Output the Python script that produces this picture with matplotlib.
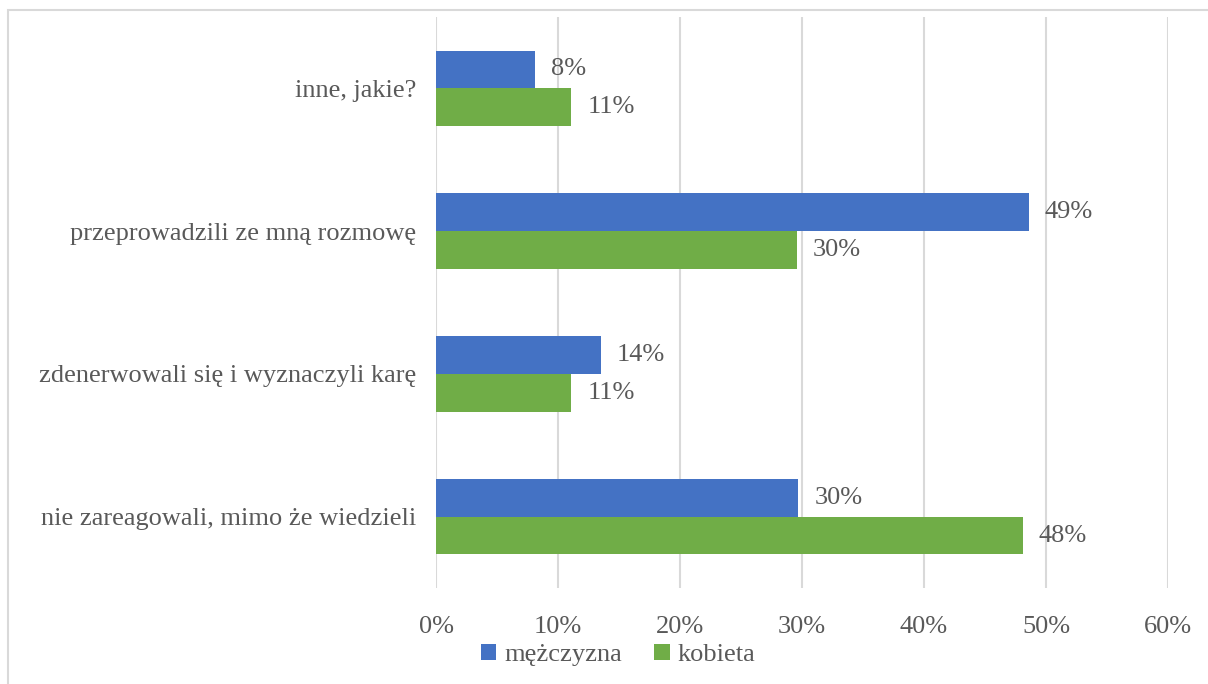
import numpy as np
import matplotlib.pyplot as plt
from matplotlib.patches import Rectangle

categories = ['nie zareagowali, mimo że wiedzieli',
              'zdenerwowali się i wyznaczyli karę',
              'przeprowadzili ze mną rozmowę',
              'inne, jakie?']
men = [29.7, 13.5, 48.6, 8.1]
women = [48.1, 11.1, 29.6, 11.1]
men_labels = ['30%', '14%', '49%', '8%']
women_labels = ['48%', '11%', '30%', '11%']

blue = '#4472C4'
green = '#70AD47'
grey = '#595959'

plt.rcParams['font.family'] = ['Liberation Serif', 'DejaVu Serif']
fs = 19

fig = plt.figure(figsize=(12.08, 6.84), dpi=100)
ax = fig.add_axes([436/1208, 1 - 588/684, 732/1208, 571/684])

y = np.arange(len(categories))
h = 0.265
ax.barh(y + h/2, men, height=h, color=blue, label='mężczyzna', zorder=3)
ax.barh(y - h/2, women, height=h, color=green, label='kobieta', zorder=3)

for i in range(len(categories)):
    ax.text(men[i] + 1.3, y[i] + h/2, men_labels[i], va='center', ha='left',
            fontsize=fs, color=grey)
    ax.text(women[i] + 1.3, y[i] - h/2, women_labels[i], va='center', ha='left',
            fontsize=fs, color=grey)

ax.set_xlim(0, 60)
ax.set_ylim(-0.5, 3.5)
ax.set_xticks(range(0, 61, 10))
ax.set_xticklabels([f'{v}%' for v in range(0, 61, 10)])
ax.set_yticks(y)
ax.set_yticklabels(categories)
ax.tick_params(axis='both', length=0, labelsize=fs, labelcolor=grey)
ax.tick_params(axis='x', pad=20)
ax.tick_params(axis='y', pad=14)
ax.grid(axis='x', color='#D9D9D9', linewidth=1.5, zorder=0)
for s in ax.spines.values():
    s.set_visible(False)

fig.legend(loc='center', bbox_to_anchor=(618/1208, 1 - 655/684), ncol=2,
           frameon=False, fontsize=fs, labelcolor=grey, handlelength=0.6,
           handleheight=0.6, handletextpad=0.3, columnspacing=1.2)

fig.patches.append(Rectangle((8/1208, -0.01), 1.1, 1 - 10/684 + 0.01,
                             transform=fig.transFigure, fill=False,
                             edgecolor='#D9D9D9', linewidth=1.5))

fig.savefig('out.png', dpi=100)
